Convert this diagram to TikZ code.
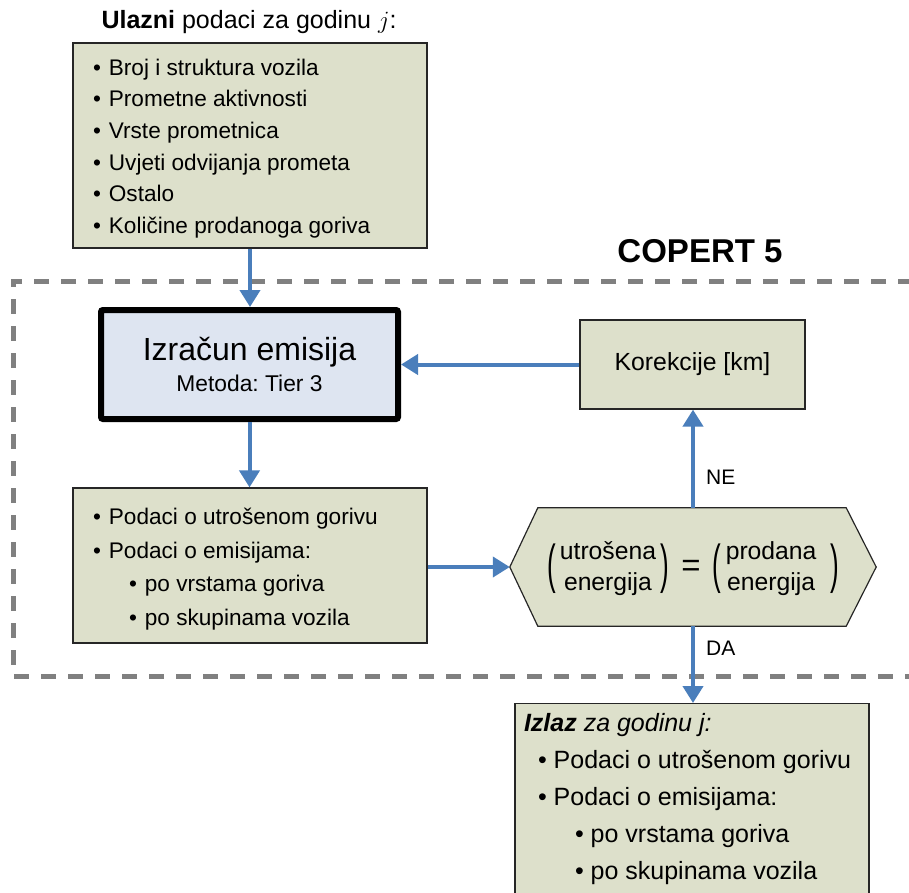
\documentclass[tikz,border=0pt]{standalone}
\usepackage{fontspec}
\usepackage{graphicx}
\setmainfont{Liberation Sans}
\usetikzlibrary{arrows.meta,backgrounds}
\frenchspacing
\definecolor{boxfill}{RGB}{221,224,203}
\definecolor{bluefill}{RGB}{222,229,241}
\definecolor{arrowblue}{RGB}{74,126,187}
\definecolor{dashgray}{RGB}{128,128,128}
\newcommand{\tallparen}[1]{\vcenter{\hbox{\fontsize{26}{26}\selectfont\scalebox{1}[2.05]{#1}}}}
\newcommand{\lowered}[2]{\raisebox{-#1}[\height][\depth]{#2}}
\newcommand{\bul}{•\hspace{8pt}}
\begin{document}
\begin{tikzpicture}[x=1pt,y=-1pt,
  greenbox/.style={draw=black!85, line width=1.2pt, fill=boxfill, inner sep=0pt},
  listbox/.style={greenbox, inner xsep=20pt},
  flow/.style={draw=arrowblue, line width=4pt, -{Triangle[width=20pt,length=17pt]}},
  lbl/.style={inner sep=0pt, anchor=west, font=\fontsize{21}{24}\selectfont}
]
\useasboundingbox (0,0) rectangle (909,892);
\clip (0,0) rectangle (909,892);

% dashed COPERT frame
\draw[dashgray, line width=5pt, dash pattern=on 15pt off 12pt]
  (940,281) -- (13,281) -- (13,676) -- (940,676);
\node[inner sep=0pt, font=\fontsize{33}{36}\selectfont\bfseries] (copert) at (700,251) {COPERT 5};

% title
\node[inner sep=0pt, font=\fontsize{25}{28}\selectfont] (title) at (249,22)
  {\textbf{Ulazni} podaci za godinu $j$:};

% input box
\node[listbox, minimum width=354pt, minimum height=205pt,
      font=\fontsize{22.6}{31.6}\selectfont] (in) at (250,145.5)
  {\lowered{3pt}{\parbox{314pt}{%
   \bul Broj i struktura vozila\\
   \bul Prometne aktivnosti\\
   \bul Vrste prometnica\\
   \bul Uvjeti odvijanja prometa\\
   \bul Ostalo\\
   \bul Količine prodanoga goriva}}};

% calculation box
\node[draw=black, line width=6pt, fill=bluefill, rounded corners=2pt,
      minimum width=297pt, minimum height=109pt, align=center, inner sep=0pt] (calc) at (249.5,364.5)
  {{\fontsize{32}{34}\selectfont Izračun emisija}\\[7pt]
   {\fontsize{22.8}{26}\selectfont Metoda: Tier 3}};

% corrections box
\node[greenbox, minimum width=225pt, minimum height=89pt,
      font=\fontsize{24.8}{28}\selectfont] (kor) at (692.5,364.5) {Korekcije [km]};

% data box
\node[listbox, minimum width=354pt, minimum height=155pt,
      font=\fontsize{22.6}{33.6}\selectfont] (data) at (250,565.5)
  {\lowered{3.5pt}{\parbox{314pt}{%
   \bul Podaci o utrošenom gorivu\\
   \bul Podaci o emisijama:\\
   \hspace*{36pt}\bul po vrstama goriva\\
   \hspace*{36pt}\bul po skupinama vozila}}};

% hexagon decision
\node[inner sep=0pt, minimum width=366pt, minimum height=118pt,
      font=\fontsize{24.7}{31}\selectfont] (hex) at (693,567)
  {\lowered{1.5pt}{$\tallparen{(}\,\begin{tabular}{@{}c@{}}utrošena\\energija\end{tabular}\,\tallparen{)}
    \mkern9mu\vcenter{\hbox{\fontsize{33}{33}\selectfont =}}\mkern9mu
    \tallparen{(}\,\begin{tabular}{@{}c@{}}prodana\\energija\end{tabular}\;\;\tallparen{)}$}};
\begin{scope}[on background layer]
\draw[greenbox] (hex.west) -- ([xshift=28pt]hex.north west) -- ([xshift=-30pt]hex.north east)
  -- (hex.east) -- ([xshift=-30pt]hex.south east) -- ([xshift=28pt]hex.south west) -- cycle;
\end{scope}

% output box
\node[listbox, anchor=north, inner xsep=9pt, inner ysep=10pt,
      font=\fontsize{25}{37}\selectfont] (out) at (692,703)
  {\parbox{336pt}{%
   \textbf{\textit{Izlaz}} \textit{za godinu j:}\\
   \hspace*{14pt}•~Podaci o utrošenom gorivu\\
   \hspace*{14pt}•~Podaci o emisijama:\\
   \hspace*{51pt}•~po vrstama goriva\\
   \hspace*{51pt}•~po skupinama vozila\\[8pt]}};

% connectors
\draw[flow] (in.south) -- (in.south |- calc.north);
\draw[flow] (calc.south) -- (calc.south |- data.north);
\draw[flow] (kor.west) -- (kor.west -| calc.east);
\draw[flow] (data.east |- hex.west) -- (hex.west);
\draw[flow] (hex.north) -- (hex.north |- kor.south);
\draw[flow] (hex.south) -- (hex.south |- out.north);

\node[lbl] (ne) at (706,477) {NE};
\node[lbl] (da) at (706,648) {DA};
\end{tikzpicture}
\end{document}
